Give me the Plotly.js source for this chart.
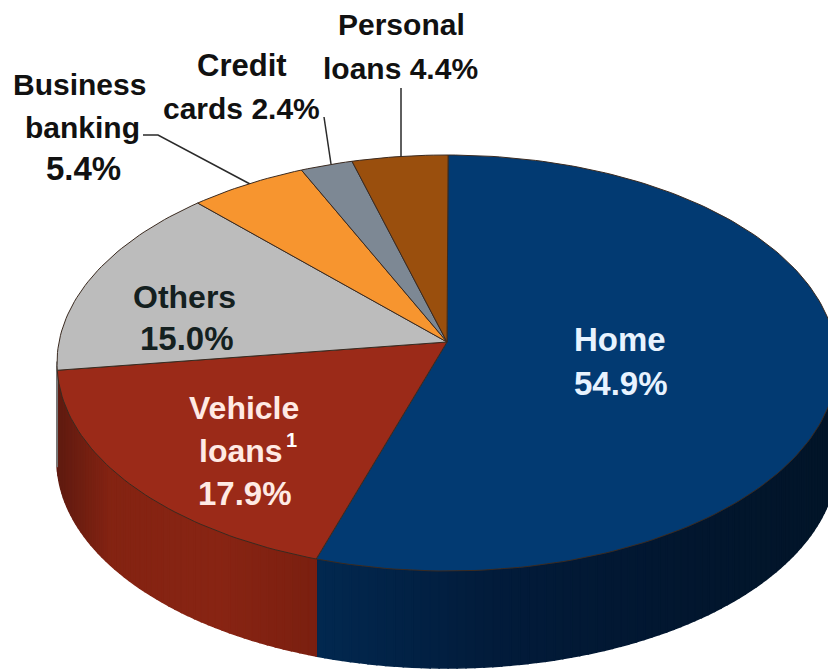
<!DOCTYPE html>
<html><head><meta charset="utf-8">
<script src="https://cdn.plot.ly/plotly-3.0.1.min.js"></script>
<style>html,body{margin:0;padding:0;background:#fff}#c{width:828px;height:670px}</style>
</head><body><div id="c"></div>
<script>
const categories = ["Home","Vehicle loans","Others","Business banking","Credit cards","Personal loans"];
const shares = [54.9,17.9,15.0,5.4,2.4,4.4];
const topColors = ["#023a72","#9b2a18","#bcbcbc","#f7952f","#7d8894","#9a4f0d"];
const sideStops = [
  [[318,"#02284f"],[500,"#021b3a"],[700,"#02162e"],[840,"#021528"]],
  [[55,"#5e1a10"],[110,"#842312"],[220,"#882413"],[320,"#7a1f10"]],
  [[55,"#777777"],[60,"#777777"]],[[0,"#999"],[1,"#999"]],[[0,"#999"],[1,"#999"]],[[0,"#999"],[1,"#999"]]
];
const labelLines = ["Home","54.9%","Vehicle","loans","17.9%","Others","15.0%","Business","banking","5.4%","Credit","cards 2.4%","Personal","loans 4.4%"];
const labelX = [620,621,244,241,245,184,187,79,82,83,242,241,401,400];
const labelY = [339,383,408,451,493,297,338,84,127,168,65,108,24,68];
const labelSize = [33,33,32,32,33,32,33,30,30,33,31,30,30,30];
const labelColor = ["#e8f3ff","#e8f3ff","#ffeae4","#ffeae4","#ffeae4","#14201f","#14201f","#111","#111","#111","#111","#111","#111","#111"];
const leaderX = [[143,158,250],[324,331],[401,401]];
const leaderY = [[135,135,184],[117,164],[88,157]];

// pie geometry in pixel-like axis units
const cx=447, cy=363, rx=390, ry=208, depth=97, apexX=447, apexY=342, startShift=0.05;
const a=(apexX-cx)/rx, b=(apexY-cy)/ry;
function rim(pct){
  const t=(pct+startShift)/100*2*Math.PI, dx=Math.sin(t), dy=-Math.cos(t);
  const B=a*dx+b*dy, C=a*a+b*b-1, s=-B+Math.sqrt(B*B-C);
  return [cx+rx*(a+s*dx), cy+ry*(b+s*dy)];
}
function hex(c){ if(c.length===4) c="#"+c[1]+c[1]+c[2]+c[2]+c[3]+c[3]; return [1,3,5].map(i=>parseInt(c.substr(i,2),16)); }
function stopColor(st,x){
  let i=0; while(i<st.length-2 && x>st[i+1][0]) i++;
  const p=Math.max(0,Math.min(1,(x-st[i][0])/(st[i+1][0]-st[i][0])));
  const A=hex(st[i][1]),B2=hex(st[i+1][1]);
  return "rgb("+A.map((v,k)=>Math.round(v+(B2[k]-v)*p)).join(",")+")";
}
const traces=[];
let start=0;
const tops=[];
categories.forEach((name,i)=>{
  const end=start+shares[i], n=Math.max(8,Math.round(shares[i]*3));
  const px=[],py=[];
  for(let k=0;k<=n;k++){const q=rim(start+(end-start)*k/n);px.push(q[0]);py.push(q[1]);}
  for(let k=0;k<n;k++){
    if(py[k]<cy && py[k+1]<cy) continue;
    const col=stopColor(sideStops[i],(px[k]+px[k+1])/2);
    traces.push({type:"scatter",mode:"lines",fill:"toself",fillcolor:col,
      x:[px[k],px[k+1],px[k+1],px[k],px[k]],
      y:[py[k],py[k+1],py[k+1]+depth,py[k]+depth,py[k]],
      line:{color:col,width:1.6},hoverinfo:"skip",showlegend:false});
  }
  tops.push({type:"scatter",mode:"lines",fill:"toself",fillcolor:topColors[i],name:name,
    x:[apexX].concat(px,[apexX]),y:[apexY].concat(py,[apexY]),
    line:{color:"#3a2a20",width:1},hoverinfo:"skip",showlegend:false});
  start=end;
});
leaderX.forEach((lx,i)=>traces.push({type:"scatter",mode:"lines",x:lx,y:leaderY[i],
  line:{color:"#2a2a2a",width:1.5},hoverinfo:"skip",showlegend:false}));
const annotations=labelLines.map((t,i)=>({text:"<b>"+t+"</b>",x:labelX[i],y:labelY[i],xref:"x",yref:"y",
  showarrow:false,xanchor:"center",yanchor:"middle",
  font:{family:"Liberation Sans",size:labelSize[i],color:labelColor[i]},
  borderpad:0}));
annotations.push({text:"<b>1</b>",x:291,y:440,xref:"x",yref:"y",showarrow:false,
  font:{family:"Liberation Sans",size:20,color:"#ffffff"}});
Plotly.newPlot("c",traces.concat(tops),{
  width:828,height:670,margin:{l:0,r:0,t:0,b:0},
  paper_bgcolor:"#fff",plot_bgcolor:"#fff",showlegend:false,
  xaxis:{range:[0,828],visible:false,fixedrange:true},
  yaxis:{range:[670,0],visible:false,fixedrange:true},
  annotations:annotations
},{staticPlot:true,displayModeBar:false});
</script></body></html>
